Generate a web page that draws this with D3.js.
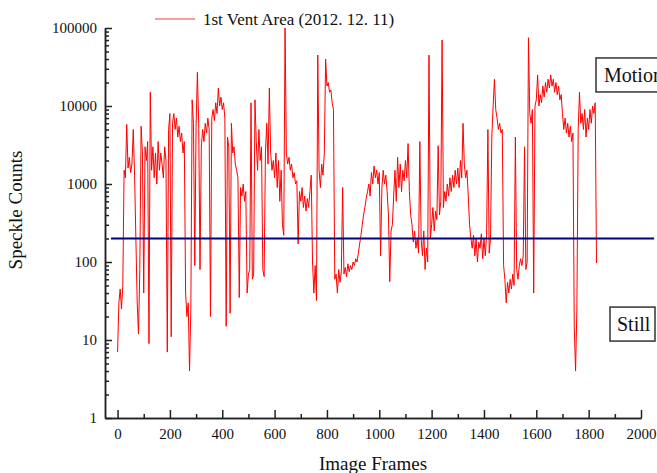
<!DOCTYPE html>
<html>
<head>
<meta charset="utf-8">
<script src="https://cdn.jsdelivr.net/npm/d3@7"></script>
<style>
  body { margin: 0; background: #fff; }
  svg text { font-family: "Liberation Serif", "Times New Roman", serif; fill: #111; }
</style>
</head>
<body>
<svg id="chart" width="657" height="473"></svg>
<script>
// DATA
////////////////////////////
var seriesName = "1st Vent Area (2012. 12. 11)";
var frameStep = 5;   // one reading every 5 image frames
// speckle counts (one line = 100 frames)
var counts = [
  7, 30, 45, 25, 50, 1500, 1200, 5800, 1600, 2200, 1400, 1800, 5000, 1300, 200, 30, 12, 80, 5500, 2500,
  40, 3000, 2000, 3500, 9, 15000, 1500, 3000, 1200, 2500, 1000, 3500, 1500, 2500, 1800, 1200, 3000, 2000, 7, 5000,
  8000, 11, 6000, 8000, 5000, 7000, 4000, 5500, 3500, 4500, 2500, 3500, 40, 20, 30, 4, 25, 12000, 6000, 90,
  5500, 27000, 6000, 80, 3000, 5000, 3500, 6000, 4500, 7000, 5000, 20, 7000, 9000, 6500, 11000, 8000, 17000, 10000, 13000,
  9000, 11000, 7000, 15, 4000, 3000, 22, 6000, 2500, 3000, 1800, 1500, 1200, 35, 900, 700, 1000, 600, 800, 40,
  70, 80, 11000, 60, 70, 12000, 3500, 1500, 5000, 2000, 3000, 80, 65, 2500, 6000, 1800, 17000, 2500, 1500, 2000,
  1200, 2500, 900, 2000, 600, 1500, 300, 220, 100000, 2500, 1800, 2200, 1500, 1800, 1200, 1400, 1000, 1100, 170, 800,
  600, 900, 500, 700, 450, 650, 500, 800, 1300, 100, 40, 90, 32, 45000, 1500, 900, 1800, 1300, 2500, 40000,
  18000, 20000, 15000, 16000, 11000, 9000, 60, 70, 40, 80, 55, 75, 900, 70, 85, 65, 95, 75, 90, 80,
  100, 90, 110, 100, 130, 170, 220, 300, 400, 500, 650, 800, 1000, 700, 1400, 1000, 1700, 1200, 1500, 1000,
  1400, 120, 900, 1500, 1000, 1300, 800, 400, 56, 250, 300, 700, 1500, 600, 2200, 900, 1800, 800, 1500, 1100,
  2000, 1200, 3300, 800, 400, 300, 180, 250, 150, 200, 130, 3500, 200, 120, 250, 80, 150, 100, 45000, 200,
  300, 500, 250, 450, 350, 3100, 400, 600, 70000, 500, 800, 600, 1000, 700, 1200, 800, 1300, 900, 1500, 1000,
  1600, 900, 2000, 1200, 6000, 1800, 1200, 1500, 700, 300, 200, 150, 220, 120, 200, 100, 180, 150, 230, 110,
  200, 120, 220, 5000, 130, 200, 4000, 10000, 22000, 9000, 7000, 5000, 6000, 4500, 5000, 90, 60, 30, 55, 40,
  60, 45, 70, 50, 4000, 80, 60, 90, 110, 90, 120, 3000, 80, 100, 75000, 8000, 6000, 9000, 40, 10000,
  12000, 25000, 10000, 14000, 11000, 18000, 13000, 20000, 15000, 22000, 17000, 25000, 18000, 22000, 15000, 20000, 14000, 18000, 12000, 14000,
  8000, 5000, 7000, 4500, 6000, 4000, 5500, 3500, 4500, 15, 4, 25, 5000, 15000, 6000, 8000, 5000, 9000, 4000, 7000,
  5000, 9000, 6000, 10000, 8000, 11000, 97
];
var threshold = 200;                 // motion / still boundary
var thresholdFrames = [-25, 2050];
var xTicks = [0, 200, 400, 600, 800, 1000, 1200, 1400, 1600, 1800, 2000];
var xMinorTicks = [100, 300, 500, 700, 900, 1100, 1300, 1500, 1700, 1900];
var yTicks = [1, 10, 100, 1000, 10000, 100000];
var boxLabels = [{ text: "Motion", value: 25000 }, { text: "Still", value: 16 }];

// SETUP
////////////////////////////
var svg = d3.select("#chart");
var plotLeft = 105, plotRight = 641, plotTop = 28, plotBottom = 418;

var x = d3.scaleLinear().domain([-48, 2000]).range([plotLeft, plotRight]);
var y = d3.scaleLog().domain([1, 100000]).range([plotBottom, plotTop]);

var yMinor = [];
yTicks.slice(0, -1).forEach(function(d) {
  for (var k = 2; k < 10; k++) yMinor.push(d * k);
});

// AXES
////////////////////////////
var gx = svg.append("g").attr("transform", "translate(0," + plotBottom + ")");
gx.append("g").call(d3.axisBottom(x).tickValues(xMinorTicks).tickFormat("").tickSize(-4).tickSizeOuter(0));
gx.append("g").call(d3.axisBottom(x).tickValues(xTicks).tickFormat(d3.format("d")).tickSize(-8).tickSizeOuter(0).tickPadding(10));

var gy = svg.append("g").attr("transform", "translate(" + plotLeft + ",0)");
gy.append("g").call(d3.axisLeft(y).tickValues(yMinor).tickFormat("").tickSize(-4).tickSizeOuter(0));
gy.append("g").call(d3.axisLeft(y).tickValues(yTicks).tickFormat(d3.format("d")).tickSize(-7).tickSizeOuter(0).tickPadding(8));

svg.selectAll(".domain, .tick line").attr("stroke", "#222").attr("stroke-width", 1.5);
svg.selectAll(".tick text").style("font-size", "15px").attr("fill", "#111");

// SERIES
////////////////////////////
var line = d3.line()
    .x(function(d, i) { return x(i * frameStep); })
    .y(function(d) { return y(d); });

svg.append("path")
    .datum(counts)
    .attr("d", line)
    .attr("fill", "none")
    .attr("stroke", "#ff0000")
    .attr("stroke-width", 1);

// threshold line
svg.append("line")
    .attr("x1", x(thresholdFrames[0])).attr("x2", x(thresholdFrames[1]))
    .attr("y1", y(threshold)).attr("y2", y(threshold))
    .attr("stroke", "#000080").attr("stroke-width", 2);

// LEGEND
////////////////////////////
svg.append("line")
    .attr("x1", 155).attr("x2", 195).attr("y1", 19).attr("y2", 19)
    .attr("stroke", "#f04040").attr("stroke-width", 1);
svg.append("text").attr("x", 203).attr("y", 25)
    .style("font-size", "17px").text(seriesName);

// motion / still boxes (Motion runs off the right edge, as in the original)
var boxes = svg.selectAll(".box").data(boxLabels).enter().append("g").attr("class", "box");
boxes.append("rect")
    .attr("x", function(d) { return d.text === "Motion" ? 596 : 610; })
    .attr("y", function(d) { return y(d.value) - 17; })
    .attr("width", function(d) { return d.text === "Motion" ? 80 : 45; })
    .attr("height", 34)
    .attr("fill", "#fff").attr("stroke", "#333").attr("stroke-width", 1.5);
boxes.append("text")
    .attr("x", function(d) { return d.text === "Motion" ? 604 : 617; })
    .attr("y", function(d) { return y(d.value) + 7; })
    .style("font-size", "20px")
    .text(function(d) { return d.text; });

// AXIS TITLES
////////////////////////////
svg.append("text")
    .attr("transform", "translate(22,210) rotate(-90)")
    .attr("text-anchor", "middle")
    .style("font-size", "19px")
    .text("Speckle Counts");
svg.append("text")
    .attr("x", 373).attr("y", 470)
    .attr("text-anchor", "middle")
    .style("font-size", "19px")
    .text("Image Frames");
</script>
</body>
</html>
